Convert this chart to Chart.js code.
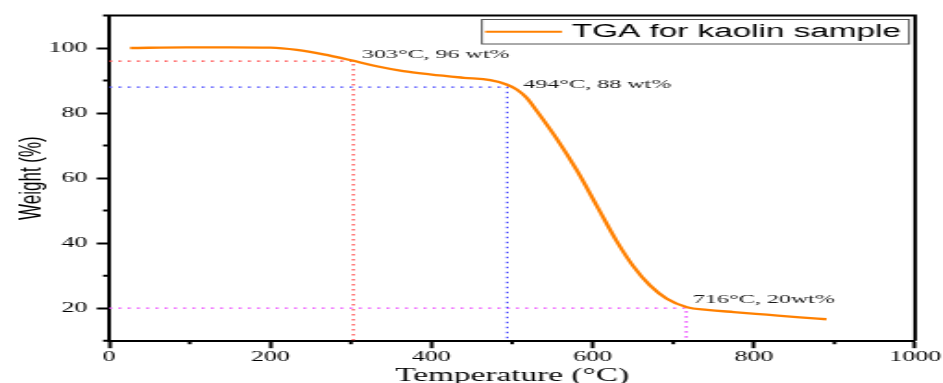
<!DOCTYPE html>
<html><head><meta charset="utf-8">
<script src="https://cdn.jsdelivr.net/npm/chart.js@4"></script>
<style>
html,body{margin:0;padding:0;background:#fff;overflow:hidden;width:943px;height:383px;}
#wrap{position:absolute;left:0;top:0;width:510px;height:383px;transform:scaleX(1.849);transform-origin:0 0;}
</style></head><body>
<div id="wrap"><canvas id="c"></canvas></div>
<script>
// ---- data ----
const temperatures = [26, 96, 150, 200, 233, 266, 299, 332, 365, 398, 440, 473, 493, 506, 518, 531, 555, 580, 605, 630, 650, 671, 692, 717, 742, 775, 816, 857, 890];
const weights      = [100, 100.2, 100.2, 100.1, 99.4, 98.05, 96.3, 94.4, 92.9, 91.9, 90.85, 90.1, 88.8, 87.2, 84.7, 80.5, 72.2, 62.5, 51.5, 40.5, 33.0, 27.0, 22.9, 20.3, 19.5, 18.8, 18.0, 17.2, 16.6];
const seriesLabel  = 'TGA for kaolin sample';
const markerTemps   = [303, 494, 716];
const markerWeights = [96, 88, 20];
const markerLabels  = ['303°C, 96 wt%', '494°C, 88 wt%', '716°C, 20wt%'];
const xTicks      = [0, 200, 400, 600, 800, 1000];
const xMinorTicks = [100, 300, 500, 700, 900];
const yTicks      = [20, 40, 60, 80, 100];
const yMinorTicks = [10, 30, 50, 70, 90, 110];

const X_MIN = 0, X_MAX = 1000, Y_MIN = 10, Y_MAX = 110;
const markerColors = ['rgb(255,60,60)', 'rgb(70,70,255)', 'rgb(235,70,255)'];
const SERIF = '"Liberation Serif", "Times New Roman", serif';
const SANS = '"Liberation Sans", Arial, sans-serif';

const datasets = [{
  label: seriesLabel,
  data: temperatures.map((t, i) => ({x: t, y: weights[i]})),
  borderColor: 'rgb(255,128,0)',
  borderWidth: 2.3,
  pointRadius: 0,
  cubicInterpolationMode: 'monotone',
  fill: false
}];
markerTemps.forEach((t, i) => {
  datasets.push({
    label: markerLabels[i],
    data: [{x: X_MIN, y: markerWeights[i]}, {x: t, y: markerWeights[i]}, {x: t, y: Y_MIN}],
    borderColor: markerColors[i],
    borderWidth: 1.3,
    borderDash: [1.6, 3.4],
    pointRadius: 0,
    tension: 0,
    fill: false
  });
});

const decor = {
  id: 'decor',
  afterDatasetsDraw(chart, args, opts) {
    const {ctx, chartArea: a, scales: {x, y}} = chart;
    ctx.save();
    // frame top/right
    ctx.strokeStyle = '#000'; ctx.lineWidth = 2;
    ctx.beginPath();
    ctx.moveTo(a.left, a.top); ctx.lineTo(a.right, a.top); ctx.lineTo(a.right, a.bottom);
    ctx.stroke();
    // minor ticks
    ctx.beginPath();
    yMinorTicks.forEach(v => { const p = y.getPixelForValue(v); ctx.moveTo(a.left - 3.3, p); ctx.lineTo(a.left, p); });
    xMinorTicks.forEach(v => { const p = x.getPixelForValue(v); ctx.moveTo(p, a.bottom); ctx.lineTo(p, a.bottom + 3.5); });
    ctx.stroke();
    // marker labels
    ctx.font = '13px ' + SERIF; ctx.fillStyle = '#1a1a1a';
    ctx.textAlign = 'left'; ctx.textBaseline = 'alphabetic';
    markerLabels.forEach((t, i) => {
      const o = opts.labelOffsets[i];
      ctx.fillText(t, x.getPixelForValue(markerTemps[i]) + o[0], y.getPixelForValue(markerWeights[i]) + o[1]);
    });
    // legend box
    const ds = chart.data.datasets[0];
    const bw = 231, bh = 24.5;
    const bl = a.right - 3.3 - bw, bt = a.top + 4;
    ctx.fillStyle = '#fff'; ctx.fillRect(bl, bt, bw, bh);
    ctx.strokeStyle = '#555'; ctx.lineWidth = 1;
    ctx.strokeRect(bl, bt, bw, bh);
    const cy = bt + 12.2;
    ctx.strokeStyle = ds.borderColor; ctx.lineWidth = 2;
    ctx.beginPath(); ctx.moveTo(bl + 1.8, cy); ctx.lineTo(bl + 43.3, cy); ctx.stroke();
    ctx.fillStyle = '#000'; ctx.font = '18px ' + SANS; ctx.textBaseline = 'middle';
    ctx.fillText(ds.label, bl + 48.7, cy + 0.5);
    ctx.restore();
  }
};

new Chart(document.getElementById('c'), {
  type: 'line',
  data: {datasets},
  plugins: [decor],
  options: {
    responsive: true,
    maintainAspectRatio: false,
    animation: false,
    layout: {padding: {left: 0, right: 15.1, top: 15.5, bottom: 0}},
    plugins: {
      legend: {display: false},
      tooltip: {enabled: false},
      decor: {labelOffsets: [[4.6, -2.7], [8.7, 1.3], [3.7, -5.5]]}
    },
    scales: {
      x: {
        type: 'linear', min: X_MIN, max: X_MAX,
        afterBuildTicks: s => { s.ticks = xTicks.map(v => ({value: v})); },
        afterFit: s => { s.height = 42.3; },
        grid: {drawOnChartArea: false, drawTicks: true, tickLength: 7.5, tickWidth: 2, tickColor: '#000'},
        border: {display: true, color: '#000', width: 2},
        ticks: {font: {family: SERIF, size: 14}, color: '#000', padding: 1, maxRotation: 0, autoSkip: false,
                callback: v => String(v)},
        title: {display: true, text: 'Temperature (°C)', color: '#000',
                font: {family: SERIF, size: 18, lineHeight: 0.6}, padding: {top: 0, bottom: 1.6}}
      },
      y: {
        type: 'linear', min: Y_MIN, max: Y_MAX,
        afterBuildTicks: s => { s.ticks = yTicks.map(v => ({value: v})); },
        afterFit: s => { s.width = 59; },
        grid: {drawOnChartArea: false, drawTicks: true, tickLength: 6.7, tickWidth: 2, tickColor: '#000'},
        border: {display: true, color: '#000', width: 2},
        ticks: {font: {family: SERIF, size: 14}, color: '#000', padding: 5, callback: v => String(v)},
        title: {display: true, text: 'Weight (%)', color: '#000',
                font: {family: SANS, size: 17}, padding: {top: 7.5, bottom: 0}}
      }
    }
  }
});
</script>
</body></html>
